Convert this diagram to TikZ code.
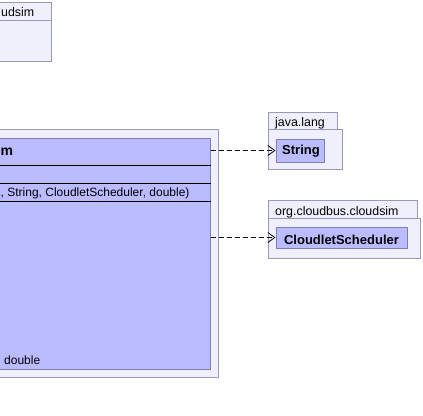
\documentclass[tikz,border=0pt]{standalone}
\usepackage{fontspec}
\setmainfont{Liberation Sans}
\usetikzlibrary{arrows.meta, positioning, fit, calc}

\definecolor{pkgfill}{RGB}{240,240,252}
\definecolor{pkgline}{RGB}{153,153,187}
\definecolor{classfill}{RGB}{187,187,255}
\definecolor{classline}{RGB}{128,128,170}

\begin{document}
\begin{tikzpicture}[
    x=1pt, y=-1pt,
    every node/.style={font=\fontsize{12}{14}\selectfont, inner sep=0pt},
    pkgbox/.style={
        rectangle,
        draw=pkgline,
        fill=pkgfill,
        line width=1pt
    },
    classbox/.style={
        rectangle,
        draw=classline,
        fill=classfill,
        line width=1pt
    },
    pkglabel/.style={anchor=base west, font=\fontsize{12.4}{14}\selectfont},
    classlabel/.style={anchor=base, font=\fontsize{13}{15}\selectfont\bfseries},
    member/.style={anchor=base west},
    sepline/.style={draw=black, line width=1pt},
    dep/.style={
        line width=0.8pt,
        dash pattern=on 5pt off 3pt,
        -{Straight Barb[length=7pt, width=10pt, line width=0.8pt]}
    }
]

\useasboundingbox (0,0) rectangle (423,415);

% Package in the upper left corner
\node[pkgbox, fit={(-20,2) (51,20)}] (toptab) {};
\node[pkgbox, fit={(-20,20) (51,61)}] (toppkg) {};
\node[pkglabel] (toptabname) at (1,16.5) {udsim};

% Package of the class
\node[pkgbox, fit={(-20,129) (218,377)}] (mainpkg) {};

% The class with its compartments
\node[classbox, fit={(-20,138) (210,369)}] (vm) {};
\draw[sepline] (vm.west |- 0,165) -- (vm.east |- 0,165);
\draw[sepline] (vm.west |- 0,183) -- (vm.east |- 0,183);
\draw[sepline] (vm.west |- 0,201) -- (vm.east |- 0,201);
\node[anchor=base west, font=\fontsize{14}{17}\selectfont\bfseries] (vmname) at (0.5,155) {m};
\node[member] (vmctor) at (0.5,196) {, String, CloudletScheduler, double)};
\node[member] (vmop) at (4,364.5) {double};

% java.lang
\node[pkgbox, fit={(268,112) (337,129)}] (langtab) {};
\node[pkgbox, fit={(268,129) (342,169)}] (langpkg) {};
\node[pkglabel] (langname) at (275,126) {java.lang};
\node[classbox, fit={(276,139) (324,162)}] (strbox) {};
\node[classlabel] (strname) at (301,154) {String};

% org.cloudbus.cloudsim
\node[pkgbox, fit={(268,200) (417,218)}] (simtab) {};
\node[pkgbox, fit={(268,218) (420,258)}] (simpkg) {};
\node[pkglabel] (simname) at (275,215.5) {org.cloudbus.cloudsim};
\node[classbox, fit={(276,227) (407,248)}] (csbox) {};
\node[classlabel] (csname) at (341.5,244) {CloudletScheduler};

% Dependencies
\draw[dep] (vm.east |- strbox.west) -- (strbox.west);
\draw[dep] (vm.east |- csbox.west) -- (csbox.west);

\end{tikzpicture}
\end{document}
